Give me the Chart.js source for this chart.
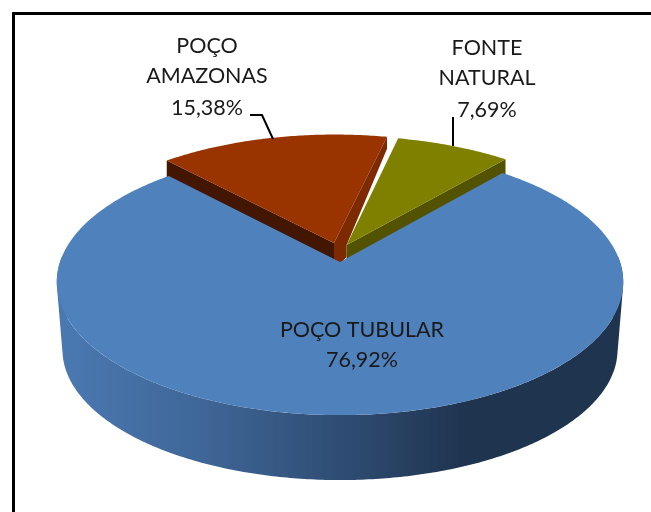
<!DOCTYPE html>
<html><head><meta charset="utf-8">
<style>html,body{margin:0;padding:0;background:#fff;overflow:hidden}canvas{display:block}</style>
<script src="https://cdn.jsdelivr.net/npm/chart.js@4"></script>
</head><body><canvas id="c" width="651" height="512"></canvas>
<script>
const categories = ['POÇO TUBULAR', 'POÇO AMAZONAS', 'FONTE NATURAL'];
const values = [76.92, 15.38, 7.69];
const topColors = ['#4F81BD', '#993300', '#808000'];

const K = 0.4646, Q = -0.1504, LOW_SCALE = 0.98, LOW_DY = 68, CUT_DEPTH = 12;
const EXPLODE = [[0, 0], [-0.022, -0.149], [0.024, -0.133]];
const LABELS = [
  {lines: ['POÇO', 'TUBULAR'], cx: 362, ys: [337, 367], oneLine: true},
  {lines: ['POÇO', 'AMAZONAS'], cx: 207, ys: [53, 83, 115]},
  {lines: ['FONTE', 'NATURAL'], cx: 487, ys: [55, 85, 117]}
];
const LEADERS = [null, [[250,115],[262,115],[273,139]], [[453,117],[453,146]]];

function project(el, i, a, r, low) {
  const u = r * Math.cos(a) + EXPLODE[i][0], v = r * Math.sin(a) + EXPLODE[i][1];
  const w = 1 + Q * v, s = low ? LOW_SCALE : 1;
  return [el.x + el.outerRadius * s * u / w,
          el.y + el.outerRadius * K * s * v / w + (low ? LOW_DY : 0)];
}
function arcPts(el, i, a0, a1, low) {
  const pts = [], n = Math.ceil(Math.abs(a1 - a0) * 90);
  for (let t = 0; t <= n; t++) pts.push(project(el, i, a0 + (a1 - a0) * t / n, 1, low));
  return pts;
}
function addPoly(ctx, pts) {
  pts.forEach((p, j) => j ? ctx.lineTo(p[0], p[1]) : ctx.moveTo(p[0], p[1]));
  ctx.closePath();
}
function fillPoly(ctx, pts, fill) {
  ctx.beginPath();
  addPoly(ctx, pts);
  ctx.fillStyle = fill;
  ctx.fill();
}
function signedArea(pts) {
  let s = 0;
  pts.forEach((p, j) => {
    const q = pts[(j + 1) % pts.length];
    s += p[0] * q[1] - q[0] * p[1];
  });
  return s;
}
const pie3d = {
  id: 'pie3d',
  beforeDatasetDraw(chart) {
    const ctx = chart.ctx, arcs = chart.getDatasetMeta(0).data;
    ctx.save();
    // frame
    ctx.fillStyle = '#000';
    ctx.fillRect(12, 12, 639, 3);
    ctx.fillRect(12, 12, 3, 500);

    // small slices: cut faces
    const shift = (p, d) => [p[0], p[1] + d];
    const blue = arcs[0], red = arcs[1], olive = arcs[2];
    const bApex = project(blue, 0, 0, 0);
    const rApex = project(red, 1, 0, 0), rL = project(red, 1, red.startAngle, 1), rR = project(red, 1, red.endAngle, 1);
    const oApex = project(olive, 2, 0, 0), oR = project(olive, 2, olive.endAngle, 1);
    fillPoly(ctx, [rApex, rL, shift(rL, 24), shift(rApex, 30)], '#421600');
    fillPoly(ctx, [rApex, rR, shift(rR, CUT_DEPTH), oApex, shift(oApex, CUT_DEPTH), shift(bApex, 2), shift(rApex, 20)], '#7D2A00');
    fillPoly(ctx, [oApex, oR, shift(oR, 24), shift(oApex, 30)], '#525200');

    // large slice: outer wall, front half only, as one path of same-wound quads
    const g = ctx.createLinearGradient(57, 0, 623, 0);
    g.addColorStop(0, '#4A79B2');
    g.addColorStop(0.25, '#3F6798');
    g.addColorStop(0.5, '#2F4D74');
    g.addColorStop(0.72, '#1F344F');
    g.addColorStop(1, '#1F344F');
    const front0 = -0.05, front1 = Math.PI + 0.05;
    const wTop = arcPts(blue, 0, front0, front1, false);
    const wLow = arcPts(blue, 0, front0, front1, true);
    ctx.beginPath();
    for (let j = 0; j < wTop.length - 1; j++) {
      const quad = [wTop[j], wTop[j + 1], wLow[j + 1], wLow[j]];
      addPoly(ctx, signedArea(quad) < 0 ? quad.reverse() : quad);
    }
    ctx.fillStyle = g;
    ctx.fill('nonzero');
    const top = arcPts(blue, 0, blue.startAngle, blue.endAngle, false);
    fillPoly(ctx, [bApex].concat(top), topColors[0]);

    // small slices: tops
    [1, 2].forEach(i => {
      const el = arcs[i];
      fillPoly(ctx, [project(el, i, 0, 0)].concat(arcPts(el, i, el.startAngle, el.endAngle, false)), topColors[i]);
    });

    // leaders
    ctx.strokeStyle = '#000';
    ctx.lineWidth = 2;
    LEADERS.forEach(l => {
      if (!l) return;
      ctx.beginPath();
      l.forEach((p, j) => j ? ctx.lineTo(p[0], p[1]) : ctx.moveTo(p[0], p[1]));
      ctx.stroke();
    });

    // labels
    ctx.font = '21.5px Lato';
    ctx.textAlign = 'center';
    ctx.textBaseline = 'alphabetic';
    ctx.fillStyle = '#1a1a1a';
    LABELS.forEach((l, i) => {
      const pct = values[i].toFixed(2).replace('.', ',') + '%';
      const lines = l.oneLine ? [categories[i], pct] : [l.lines[0], l.lines[1], pct];
      lines.forEach((t, j) => ctx.fillText(t, l.cx, l.ys[j]));
    });
    ctx.restore();
    return false;
  }
};
new Chart(document.getElementById('c'), {
  type: 'pie',
  data: {labels: categories, datasets: [{data: values, backgroundColor: topColors, borderWidth: 0}]},
  options: {
    responsive: false, animation: false, events: [],
    radius: 280, rotation: 40.3,
    layout: {padding: {left: 29, top: 12, right: 0, bottom: 0}},
    plugins: {legend: {display: false}, tooltip: {enabled: false}}
  },
  plugins: [pie3d]
});
</script></body></html>
